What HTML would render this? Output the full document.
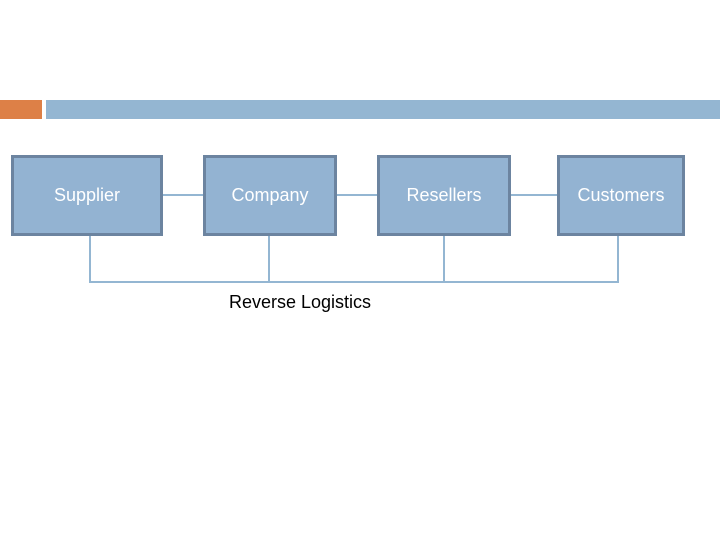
<!DOCTYPE html>
<html><head><style>
body{margin:0;width:720px;height:540px;background:#fff;position:relative;overflow:hidden;font-family:"Liberation Sans",sans-serif}
.b{position:absolute;top:155px;height:75px;background:#93b3d2;border:3px solid #6c84a0;color:#fff;font-size:18px;display:flex;align-items:center;justify-content:center;box-sizing:content-box}
</style></head><body>
<div style="position:absolute;left:0;top:100px;width:42px;height:19px;background:#dd8047"></div>
<div style="position:absolute;left:46px;top:100px;width:674px;height:19px;background:#94b6d2"></div>
<svg width="720" height="540" style="position:absolute;left:0;top:0">
<g stroke="#94b6d2" stroke-width="2" fill="none">
<line x1="163" y1="195" x2="203" y2="195"/>
<line x1="337" y1="195" x2="377" y2="195"/>
<line x1="511" y1="195" x2="557" y2="195"/>
<polyline points="90,235 90,282 618,282 618,235"/>
<line x1="269" y1="235" x2="269" y2="282"/>
<line x1="444" y1="235" x2="444" y2="282"/>
</g></svg>
<div class="b" style="left:11px;width:146px">Supplier</div>
<div class="b" style="left:203px;width:128px">Company</div>
<div class="b" style="left:377px;width:128px">Resellers</div>
<div class="b" style="left:557px;width:122px">Customers</div>
<div style="position:absolute;left:229px;top:292px;font-size:18px;color:#000">Reverse Logistics</div>
</body></html>
